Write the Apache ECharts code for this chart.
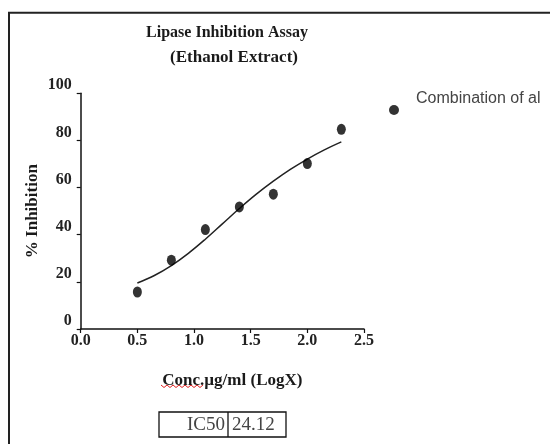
<!DOCTYPE html>
<html>
<head>
<meta charset="utf-8">
<script src="https://cdn.jsdelivr.net/npm/echarts@6/dist/echarts.min.js"></script>
<style>html,body{margin:0;padding:0;background:#fff}#c{width:550px;height:444px}</style>
</head>
<body>
<div id="c"></div>
<script>
// Measured data points (log concentration, % inhibition)
const pointX = [0.5, 0.8, 1.1, 1.4, 1.7, 2.0, 2.3];
const pointY = [15.7, 29.2, 42.2, 51.8, 57.2, 70.2, 84.7];
// Fitted curve
const curveX = [0.5, 0.65, 0.8, 0.95, 1.1, 1.25, 1.4, 1.55, 1.7, 1.85, 2.0, 2.15, 2.3];
const curveY = [19.5, 22.7, 26.9, 32.1, 38.1, 44.6, 51.1, 57.2, 62.7, 67.7, 72.1, 76.0, 79.4];
const xTicks = [0, 0.5, 1.0, 1.5, 2.0, 2.5];
const yTicks = [0, 20, 40, 60, 80, 100];
const seriesName = 'Combination of al';
const ic50Label = 'IC50';
const ic50Value = '24.12';

const serif = '"Liberation Serif", "DejaVu Serif", serif';
const chart = echarts.init(document.getElementById('c'), null, {renderer: 'canvas'});

const squiggle = [];
for (let i = 0; i <= 14; i++) squiggle.push([161 + i * 3, 386 + (i % 2 ? 1.5 : -1)]);

chart.setOption({
  animation: false,
  backgroundColor: '#fff',
  title: [
    {text: 'Lipase Inhibition Assay', left: 222, top: 20, textAlign: 'center',
     textStyle: {fontFamily: serif, fontWeight: 'bold', fontSize: 16, color: '#1a1a1a'}},
    {text: '(Ethanol Extract)', left: 229, top: 44, textAlign: 'center',
     textStyle: {fontFamily: serif, fontWeight: 'bold', fontSize: 17, color: '#1a1a1a'}}
  ],
  legend: {
    data: [seriesName], left: 384, top: 86, orient: 'vertical',
    itemWidth: 10, itemHeight: 11, icon: 'circle',
    formatter: name => '{n|' + name + '}\n{n| }',
    textStyle: {
      fontFamily: '"Liberation Sans", Arial, sans-serif', fontSize: 16, color: '#444',
      rich: {n: {fontFamily: '"Liberation Sans", Arial, sans-serif', fontSize: 16, color: '#444', lineHeight: 22, padding: [0, 0, 0, 12]}}
    }
  },
  grid: {left: 80.7, top: 93.3, width: 283.3, height: 235.7, containLabel: false},
  xAxis: {
    type: 'value', min: xTicks[0], max: xTicks[xTicks.length - 1], interval: 0.5,
    name: 'Conc.µg/ml (LogX)', nameLocation: 'middle', nameGap: 43, nameMoveOverlap: false,
    nameTextStyle: {fontFamily: serif, fontWeight: 'bold', fontSize: 17, color: '#1a1a1a', padding: [0, 0, 0, 20]},
    axisLine: {show: true, onZero: false, lineStyle: {color: '#111', width: 1.5}},
    axisTick: {show: true, inside: false, length: 4, lineStyle: {color: '#111', width: 1.2}},
    axisLabel: {fontFamily: serif, fontWeight: 'bold', fontSize: 16, color: '#222', margin: 4,
      formatter: v => v.toFixed(1)},
    splitLine: {show: false}
  },
  yAxis: {
    type: 'value', min: yTicks[0], max: yTicks[yTicks.length - 1], interval: 20,
    name: '% Inhibition', nameLocation: 'middle', nameGap: 40, nameRotate: 90, nameMoveOverlap: false,
    nameTextStyle: {fontFamily: serif, fontWeight: 'bold', fontSize: 17, color: '#1a1a1a'},
    axisLine: {show: true, onZero: false, lineStyle: {color: '#111', width: 1.5}},
    axisTick: {show: true, inside: false, length: 4, lineStyle: {color: '#111', width: 1.2}},
    axisLabel: {fontFamily: serif, fontWeight: 'bold', fontSize: 16, color: '#222', margin: 9,
      verticalAlign: 'bottom', lineHeight: 16},
    splitLine: {show: false}
  },
  series: [
    {
      name: 'fit', type: 'line', smooth: 0.4, showSymbol: false, silent: true,
      data: curveX.map((x, i) => [x, curveY[i]]),
      lineStyle: {color: '#222', width: 1.5}, z: 2
    },
    {
      name: seriesName, type: 'scatter', symbol: 'circle', symbolSize: [9, 11],
      data: pointX.map((x, i) => [x, pointY[i]]),
      itemStyle: {color: '#000'}, z: 3
    }
  ],
  graphic: [
    {type: 'rect', shape: {x: 9, y: 12.7, width: 600, height: 500}, style: {fill: 'none', stroke: '#222', lineWidth: 2}, silent: true},
    {type: 'polyline', shape: {points: squiggle}, style: {stroke: '#e02020', lineWidth: 1, fill: 'none'}, silent: true},
    {type: 'rect', shape: {x: 159, y: 412, width: 127, height: 25}, style: {fill: 'none', stroke: '#111', lineWidth: 1.3}},
    {type: 'line', shape: {x1: 228, y1: 412, x2: 228, y2: 437}, style: {stroke: '#111', lineWidth: 1.3}},
    {type: 'text', x: 225, y: 425, style: {text: ic50Label, fontFamily: serif, fontSize: 19, fill: '#444', align: 'right', verticalAlign: 'middle'}},
    {type: 'text', x: 232, y: 425, style: {text: ic50Value, fontFamily: serif, fontSize: 19, fill: '#444', align: 'left', verticalAlign: 'middle'}}
  ]
});
</script>
</body>
</html>
